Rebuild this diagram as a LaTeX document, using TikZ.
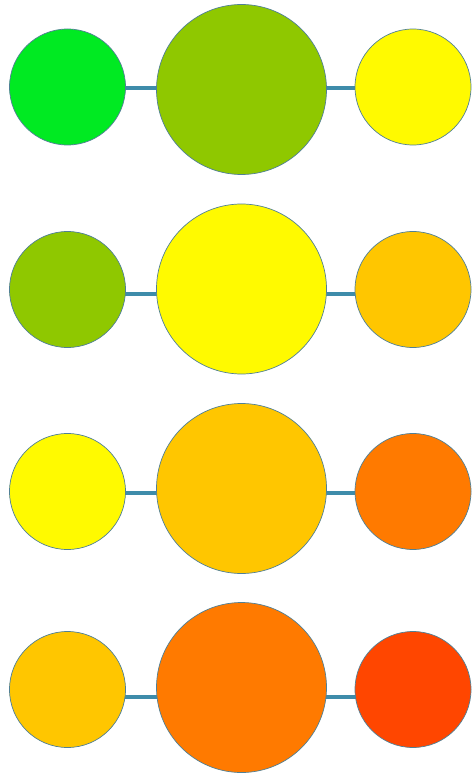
\documentclass[tikz,border=0pt]{standalone}
\usetikzlibrary{backgrounds}
\definecolor{cgreen}{RGB}{0,234,34}
\definecolor{clime}{RGB}{143,200,0}
\definecolor{cyellow}{RGB}{255,250,0}
\definecolor{camber}{RGB}{255,198,0}
\definecolor{corange}{RGB}{255,122,0}
\definecolor{cred}{RGB}{255,70,0}
\definecolor{cline}{RGB}{62,140,170}
\definecolor{cborder}{RGB}{80,128,150}
\tikzset{
  dot/.style={circle, inner sep=0pt, draw=cborder, line width=0.7pt},
  small/.style={dot, minimum size=116pt},
  big/.style={dot, minimum size=170pt},
  conn/.style={draw=cline, line width=4pt}
}
\begin{document}
\begin{tikzpicture}[x=1pt,y=-1pt]
\useasboundingbox (0,0) rectangle (472,775);
% row 1
\node[small, fill=cgreen] (a1) at (67.5,87) {};
\node[big, fill=clime] (b1) at (241.5,89.5) {};
\node[small, fill=cyellow] (c1) at (413,87) {};
% row 2
\node[small, fill=clime] (a2) at (67.5,289.5) {};
\node[big, fill=cyellow] (b2) at (241.5,289) {};
\node[small, fill=camber] (c2) at (413,289.5) {};
% row 3
\node[small, fill=cyellow] (a3) at (67.5,491.5) {};
\node[big, fill=camber] (b3) at (241.5,488.5) {};
\node[small, fill=corange] (c3) at (413,491.5) {};
% row 4
\node[small, fill=camber] (a4) at (67.5,689.5) {};
\node[big, fill=corange] (b4) at (241.5,687.5) {};
\node[small, fill=cred] (c4) at (413,689.5) {};
\coordinate (L1) at (0,88);
\coordinate (L2) at (0,294);
\coordinate (L3) at (0,493);
\coordinate (L4) at (0,697);
\begin{scope}[on background layer]
\foreach \i in {1,2,3,4}{
  \draw[conn] (a\i.center |- L\i) -- (b\i.center |- L\i);
  \draw[conn] (b\i.center |- L\i) -- (c\i.center |- L\i);
}
\end{scope}
\end{tikzpicture}
\end{document}
